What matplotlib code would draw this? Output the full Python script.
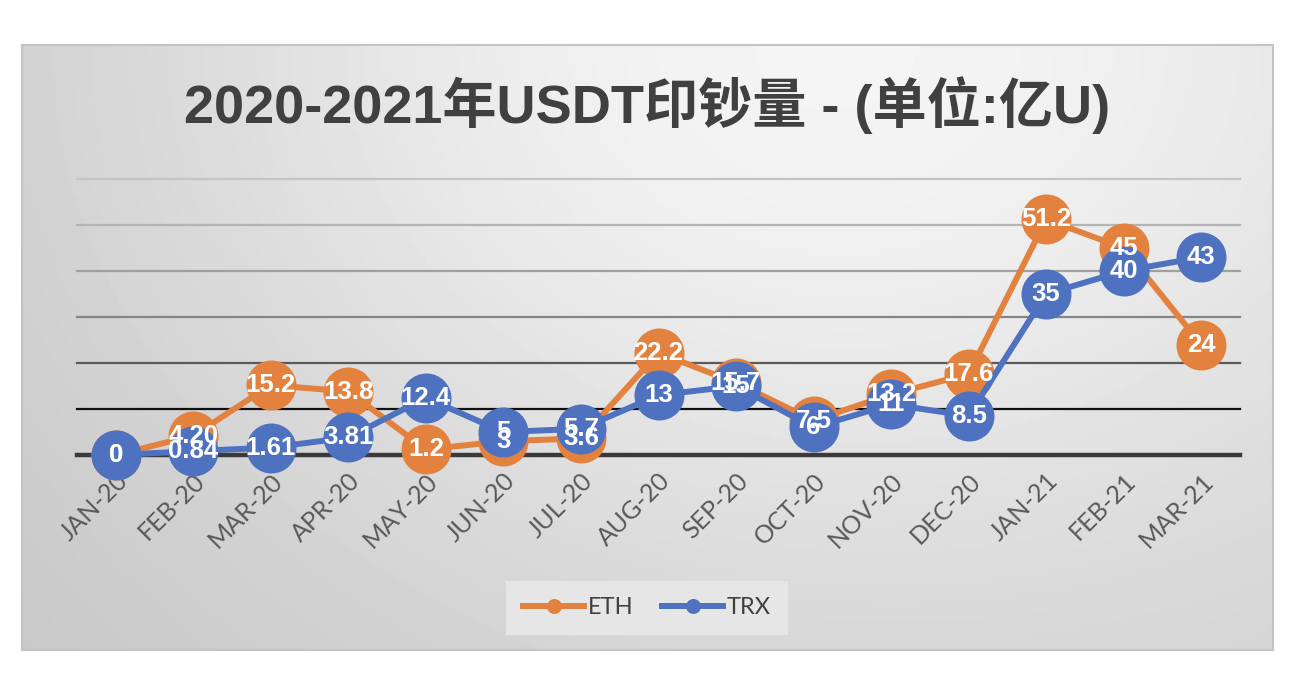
import matplotlib.pyplot as plt
import numpy as np

months = ['JAN-20', 'FEB-20', 'MAR-20', 'APR-20', 'MAY-20', 'JUN-20', 'JUL-20', 'AUG-20',
          'SEP-20', 'OCT-20', 'NOV-20', 'DEC-20', 'JAN-21', 'FEB-21', 'MAR-21']
eth = [0, 4.20, 15.2, 13.8, 1.2, 3, 3.6, 22.2, 15.7, 7.5, 13.2, 17.6, 51.2, 45, 24]
trx = [0, 0.84, 1.61, 3.81, 12.4, 5, 5.7, 13, 15, 6, 11, 8.5, 35, 40, 43]
eth_labels = ['0', '4.20', '15.2', '13.8', '1.2', '3', '3.6', '22.2', '15.7', '7.5', '13.2', '17.6', '51.2', '45', '24']
trx_labels = ['0', '0.84', '1.61', '3.81', '12.4', '5', '5.7', '13', '15', '6', '11', '8.5', '35', '40', '43']
grid_values = [0, 10, 20, 30, 40, 50, 60]

orange = '#E3823F'
blue = '#4E72C0'

fig = plt.figure(figsize=(13, 6.8), dpi=100)
fig.patch.set_facecolor('white')

# gradient background of the chart box
bg = fig.add_axes([22/1300, 30/680, 1251/1300, 605/680])
gx, gy = np.meshgrid(np.linspace(0, 1, 300), np.linspace(0, 1, 160))
shade = 0.80 + 0.17*np.exp(-((gx-0.62)**2/0.35 + (gy-1.0)**2/0.9))
shade = shade - 0.03*(1-gx)
bg.imshow(shade, cmap='gray', vmin=0, vmax=1, origin='lower', aspect='auto', extent=[0, 1, 0, 1])
bg.set_xticks([])
bg.set_yticks([])
for s in bg.spines.values():
    s.set_color('#c4c4c4')
    s.set_linewidth(1.5)

ax = fig.add_axes([77/1300, 225/680, 1163/1300, 276/680])
ax.patch.set_alpha(0)
x = np.arange(len(months))

# gridlines get darker towards the bottom
grid_colors = ['#3a3a3a', '#101010', '#5a5a5a', '#858585', '#a0a0a0', '#b4b4b4', '#c4c4c4']
grid_widths = [3.2, 1.6, 1.6, 1.6, 1.6, 1.6, 1.6]
for v, c, w in zip(grid_values, grid_colors, grid_widths):
    ax.axhline(v, color=c, linewidth=w, zorder=1, clip_on=False)

ax.plot(x, eth, color=orange, linewidth=4.3, marker='o', markersize=36,
        markerfacecolor=orange, markeredgewidth=0, label='ETH', zorder=3, clip_on=False)
ax.plot(x, trx, color=blue, linewidth=4.3, marker='o', markersize=36,
        markerfacecolor=blue, markeredgewidth=0, label='TRX', zorder=4, clip_on=False)

# data labels
for i in range(len(x)):
    ax.text(x[i], eth[i], eth_labels[i], color='white', fontsize=18.5, fontweight='bold',
            family='Liberation Sans', ha='center', va='center', zorder=6)
    ax.text(x[i], trx[i], trx_labels[i], color='white', fontsize=18.5, fontweight='bold',
            family='Liberation Sans', ha='center', va='center', zorder=7)

ax.set_xlim(-0.5, len(months)-0.5)
ax.set_ylim(0, 60)
ax.set_yticks([])
ax.set_xticks(x)
ax.set_xticklabels(months, rotation=45, ha='right', rotation_mode='anchor',
                   fontsize=18, color='#595959', family='Lato')
ax.tick_params(axis='x', length=0, pad=10)
for s in ax.spines.values():
    s.set_visible(False)

# title
fig.text(0.498, 0.845, '2020-2021年USDT印钞量 - (单位:亿U)', ha='center', va='center',
         fontsize=39, fontweight='bold', color='#404040',
         family=['Liberation Sans', 'Noto Sans CJK SC'])

# legend
leg = ax.legend(loc='center', bbox_to_anchor=(647/1300, 1-608/680), bbox_transform=fig.transFigure,
                ncol=2, frameon=True, fontsize=17, markerscale=0.3, handlelength=2.6,
                columnspacing=1.2, handletextpad=0.15, borderpad=0.4, borderaxespad=0)
leg.get_frame().set_facecolor('#e8e8e8')
leg.get_frame().set_edgecolor('none')
leg.get_frame().set_alpha(0.9)
leg.get_frame().set_boxstyle('square')
for t in leg.get_texts():
    t.set_color('#404040')
    t.set_family('Lato')

plt.savefig('out.png', dpi=100)
